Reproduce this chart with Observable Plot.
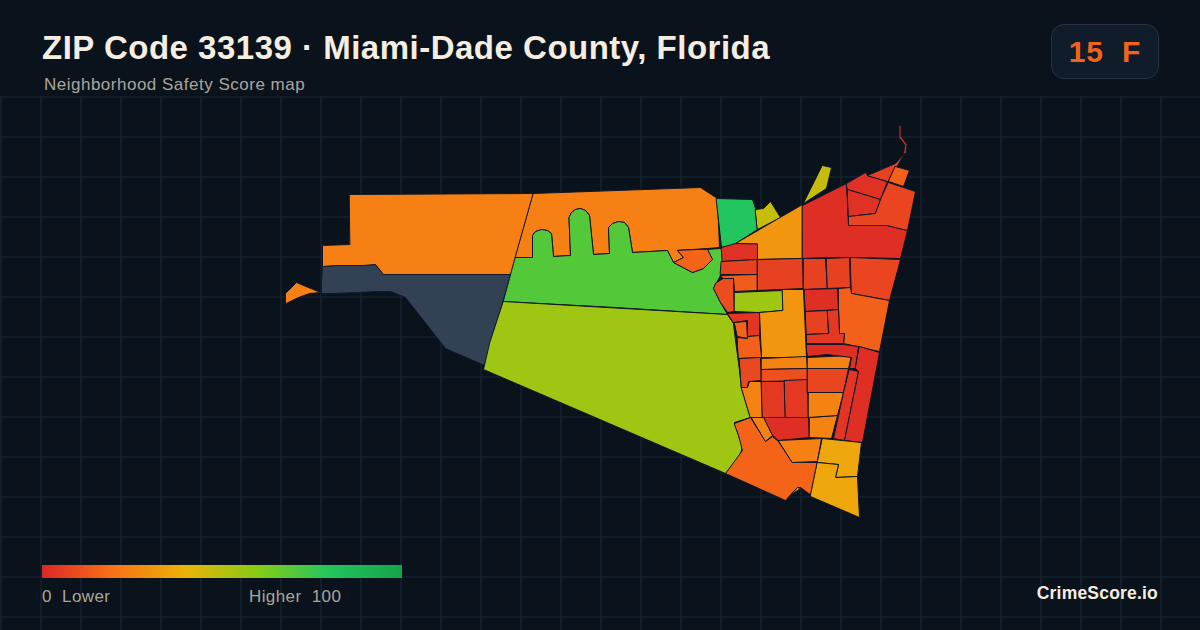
<!DOCTYPE html>
<html><head><meta charset="utf-8">
<script src="https://cdn.jsdelivr.net/npm/d3@7"></script>
<script src="https://cdn.jsdelivr.net/npm/@observablehq/plot@0.6"></script>
<style>
html,body{margin:0;padding:0;background:#0a121c;}
#page{position:relative;width:1200px;height:630px;overflow:hidden;background:#0a121c;font-family:"Liberation Sans",Arial,sans-serif;}
#head{height:96px;}
#title{position:absolute;left:42px;top:28px;font-size:33px;line-height:40px;font-weight:700;color:#f5ede0;white-space:pre;letter-spacing:.5px;}
#sub{position:absolute;left:44px;top:75px;font-size:17px;line-height:20px;color:#aba69b;white-space:pre;letter-spacing:.5px;}
#badge{position:absolute;left:1051px;top:24px;width:106px;height:53px;border:1px solid #263344;border-radius:13px;background:#111c2b;color:#f0641b;font-size:30px;font-weight:700;line-height:54px;text-align:center;white-space:pre;letter-spacing:.8px;}
#ramp{position:absolute;left:42px;top:565px;width:360px;height:13px;}
.lg{position:absolute;top:587px;font-size:17px;line-height:20px;color:#aba69b;white-space:pre;letter-spacing:.4px;}
#brand{position:absolute;right:42px;top:583px;font-size:17.5px;line-height:20px;font-weight:700;color:#f5ede0;white-space:pre;letter-spacing:.2px;}
svg{display:block;}
</style></head><body>
<div id="page">
<div id="head"></div>
<div id="map"></div>
<div id="title">ZIP Code 33139 · Miami-Dade County, Florida</div>
<div id="sub">Neighborhood Safety Score map</div>
<div id="badge">15  F</div>
<div id="ramp"></div>
<div class="lg" style="left:42px">0  Lower</div>
<div class="lg" style="left:249px">Higher  100</div>
<div id="brand">CrimeScore.io</div>
</div>
<script>
const scaleStops = [0, 20, 40, 60, 80, 100];
const scaleColors = ["#dc2626", "#f97316", "#eab308", "#84cc16", "#22c55e", "#16a34a"];
const noDataColor = "#334155";

// Neighborhood score for each outline in zoneOutlines, in the same order (null = no data)
const zoneScores = [
  24, null, 24, 24, 70, 16, 55, 80, 47, 47,
  31, 3, 7, 14, 10, 55, 2, 3, 3, 8,
  7, 3, 15, 7, 7, 7, 8, 15, 2, 7,
  5, 4, 31, 16, 15, 9, 25, 11, 25, 5,
  5, 2, 25, 25, 25, 8, 25, 2, 4, 2,
  16, 24, 36, 36, 36
];

// Outlines, in map units
const zoneOutlines = [
  [[349,194],[533,193],[511,274],[383,274],[375,264],[362,265],[335,265],[322,266],[322,245],[349,244]],
  [[322,266],[335,265],[362,264.5],[375,264],[383,274],[511,274],[484,365],[445,348],[405,297],[390,291],[378,291],[357,292],[333,293],[321,293]],
  [[285,303],[285,293],[296,282],[320,292],[309,293],[298,297]],
  [[533,193],[700,187],[717,198],[719,247],[707,248],[677,250],[683,257],[673,262],[667,250],[632,252],[628,227],[624,222],[618,221],[612,223],[608,227],[609,253],[593,254],[589,215],[585,210],[580,208],[575,209],[571,212],[568.5,217],[570,255],[553,256],[551,233],[547,230],[541,229],[535,231],[532,235],[532,257],[515,257]],
  [[515,257],[532,257],[532,235],[535,231],[541,229],[547,230],[551,233],[553,256],[570,255],[568.5,217],[571,212],[575,209],[580,208],[585,210],[589,215],[593,254],[609,253],[608,227],[612,223],[618,221],[624,222],[628,227],[632,252],[667,250],[673,262],[692,272],[703,268],[712,259],[707,249],[719,248],[722,248],[723,263],[720,275],[713,288],[720,302],[727,314],[615,307],[503,301]],
  [[677,250],[683,257],[673,262],[692,272],[703,268],[712,259],[707,249]],
  [[503,301],[727,314],[733,323],[735,340],[738,362],[741,387],[750,417],[734,422],[738,435],[742,447],[738,458],[725,473],[483,369],[489,343]],
  [[716,198],[752,199],[755,208],[757,229],[732,245],[721,247],[718,220]],
  [[755,209],[763,208],[770,201],[780,217],[757,229]],
  [[822,165],[831,167],[826,188],[803,203]],
  [[735,243],[802,204],[802,258],[757,259],[757,244]],
  [[721,247],[735,243],[757,243.5],[757,259],[722,261]],
  [[721,261],[757,259],[757,274],[720,274]],
  [[720,275],[757,274],[757,290],[734,291],[733,278],[723,278]],
  [[723,278],[733,278],[734,311],[727,312],[720,302],[713,288],[715,283]],
  [[734,292],[782,290],[782,310],[758,312],[734,311]],
  [[802,205],[846,183],[848,225],[887,225],[907,230],[900,258],[850,257],[826,257],[802,258]],
  [[846,183],[865,172],[867,175],[887,181],[880,199],[847,189]],
  [[847,189],[880,199],[875,213],[848,216]],
  [[888,182],[915,191],[907,230],[886,225],[848,225],[848,216],[875,213],[880,199]],
  [[867,175],[895,163],[904,153],[888,181]],
  [[903,153],[904.5,144.5],[898.5,137],[898.5,125],[900.5,125],[900.5,136],[906.5,144],[905.5,153]],
  [[895,166],[909,170],[903,186],[888,181]],
  [[757,259],[802,258],[803,288],[757,290]],
  [[803,258],[825,258],[827,288],[803,289]],
  [[826,258],[849,257],[850,287],[827,288]],
  [[850,257],[900,259],[889,300],[862,295],[851,293]],
  [[838,288],[850,287],[851,293],[862,295],[889,300],[879,351],[843,343],[844,333],[839,333]],
  [[804,289],[837,288],[838,309],[805,311]],
  [[805,311],[827,310],[828,333],[806,334]],
  [[827,310],[838,309],[839,333],[844,333],[843,343],[806,343],[806,334],[828,333]],
  [[727,313],[759,312],[759,335],[747,336],[747,320],[733,322]],
  [[782,289],[803,289],[806,357],[761,357],[759,312],[782,310]],
  [[734,322],[746,321],[747,338],[737,336]],
  [[737,337],[747,338],[747,336],[759,335],[761,357],[738,358]],
  [[739,358],[760,357],[761,380],[748,381],[747,387],[741,387]],
  [[761,358],[806,356],[807,368],[761,369]],
  [[761,369],[807,368],[807,380],[761,381]],
  [[741,387],[747,387],[749,381],[761,381],[762,417],[750,417]],
  [[761,381],[784,381],[785,417],[762,417]],
  [[784,380],[807,379],[808,417],[785,417]],
  [[763,417],[808,417],[809,437],[778,440],[772,435]],
  [[751,417],[763,417],[772,435],[765,441]],
  [[809,417],[837,415],[831,438],[809,437]],
  [[808,392],[843,392],[837,415],[808,417]],
  [[807,368],[848,368],[843,392],[807,392]],
  [[807,357],[851,355],[848,368],[807,368]],
  [[806,344],[843,344],[858,346],[855,368],[849,368],[851,357],[827,354],[807,356]],
  [[849,369],[858,371],[844,440],[833,438],[843,392]],
  [[859,346],[879,352],[862,442],[844,440],[858,371],[855,368]],
  [[734,423],[750,417],[765,441],[772,436],[778,441],[792,462],[817,462],[811,495],[800,487],[797,487],[785,500],[725,473],[742,450],[738,435]],
  [[778,440],[821,438],[817,461],[792,462]],
  [[822,438],[861,442],[857,476],[835,477],[838,464],[817,462]],
  [[817,462],[838,464],[835,477],[857,476],[859,517],[810,496]],
  [[787,498],[797,487],[800,488],[791,494]]
];

const gridStep = 40;
const gridX = d3.range(0, 1201, gridStep);
const gridY = d3.range(96, 631, gridStep);

const features = zoneOutlines.map((ring, i) => ({
  type: "Feature",
  properties: {score: zoneScores[i]},
  geometry: {type: "Polygon", coordinates: [[...ring, ring[0]]]}
}));
const gridLines = [
  ...gridX.map(x => ({type: "LineString", coordinates: [[x + 0.5, 96], [x + 0.5, 630]]})),
  ...gridY.map(y => ({type: "LineString", coordinates: [[0, y + 0.5], [1200, y + 0.5]]}))
];

const shift = d3.geoTransform({point(x, y) { this.stream.point(x, y - 96); }});

const chart = Plot.plot({
  width: 1200, height: 534,
  margin: 0,
  style: {background: "transparent"},
  projection: () => shift,
  color: {type: "linear", domain: scaleStops, range: scaleColors},
  marks: [
    Plot.geo(gridLines, {stroke: "#182835", strokeWidth: 1}),
    Plot.geo(features.filter(f => f.properties.score == null), {fill: noDataColor, stroke: "#0f172a", strokeWidth: 1}),
    Plot.geo(features.filter(f => f.properties.score != null), {fill: d => d.properties.score, stroke: "#0f172a", strokeWidth: 1})
  ]
});
document.getElementById("map").appendChild(chart);

document.getElementById("ramp").style.background =
  "linear-gradient(to right," + scaleColors.map((c, i) => c + " " + scaleStops[i] + "%").join(",") + ")";
</script>
</body></html>
